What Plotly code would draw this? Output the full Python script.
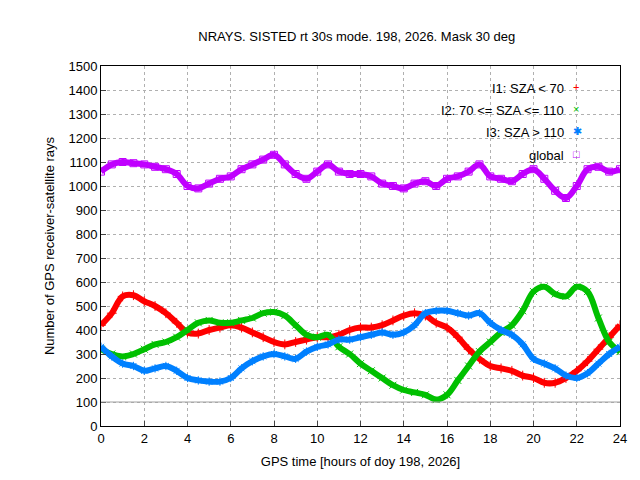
import plotly.graph_objects as go

hours = [i * 0.5 for i in range(49)]

i1 = [420, 470, 540, 545, 520, 500, 470, 430, 390, 385, 400, 410, 420, 410, 390, 370, 350, 340, 350, 360,
      370, 370, 380, 400, 410, 410, 420, 440, 460, 470, 460, 430, 410, 370, 320, 280, 250, 240, 230, 210,
      200, 180, 180, 200, 230, 270, 320, 370, 420]
i2 = [320, 300, 290, 300, 320, 340, 350, 370, 400, 430, 440, 430, 430, 440, 450, 470, 475, 460, 420, 380,
      370, 380, 330, 300, 260, 230, 200, 170, 150, 140, 130, 110, 130, 190, 250, 310, 350, 390, 420, 480,
      560, 580, 550, 540, 580, 560, 450, 350, 310]
i3 = [330, 290, 260, 250, 230, 240, 250, 230, 200, 190, 185, 185, 200, 240, 270, 290, 300, 290, 280, 310,
      330, 340, 360, 360, 370, 380, 390, 380, 390, 420, 470, 480, 480, 470, 460, 470, 430, 400, 380, 340,
      280, 260, 240, 210, 200, 220, 260, 300, 330]
glob = [1060, 1090, 1100, 1095, 1090, 1080, 1070, 1050, 1000, 990, 1010, 1030, 1040, 1070, 1090, 1110,
        1130, 1090, 1050, 1030, 1060, 1090, 1060, 1050, 1050, 1040, 1010, 1000, 990, 1010, 1020, 1000,
        1030, 1040, 1060, 1090, 1040, 1030, 1020, 1050, 1070, 1030, 980, 950, 1000, 1070, 1080, 1060, 1070]

series = [
    ("I1: SZA < 70", i1, "#ff0000", "cross-thin-open", "+"),
    ("I2: 70 <= SZA <= 110", i2, "#00c000", "x-thin-open", "×"),
    ("I3: SZA > 110", i3, "#0080ff", "asterisk-open", "✱"),
    ("global", glob, "#c000ff", "square-open", "□"),
]

fig = go.Figure()
for name, vals, col, sym, _ in series:
    fig.add_trace(go.Scatter(
        x=hours, y=vals, mode="lines+markers", name=name, showlegend=False,
        line=dict(color=col, width=6, shape="spline"),
        marker=dict(symbol=sym, size=7, color=col, line=dict(width=1, color=col)),
    ))

fig.add_hline(y=100, line=dict(color="#a0a0a0", width=1))

for k, (name, _, col, _, glyph) in enumerate(series):
    yy = 0.965 - k * 0.062
    fig.add_annotation(xref="paper", yref="paper", x=0.895, y=yy, text=name, showarrow=False,
                       xanchor="right", font=dict(size=13, color="black"))
    fig.add_annotation(xref="paper", yref="paper", x=0.905, y=yy, text=glyph, showarrow=False,
                       xanchor="left", font=dict(size=11, color=col))

axis = dict(showline=True, mirror=True, linecolor="black", linewidth=1, ticks="inside", ticklen=5,
            showgrid=True, gridcolor="#b0b0b0", griddash="dot", zeroline=False, automargin=False,
            tickfont=dict(size=13, color="black"))

fig.update_layout(
    width=640, height=480,
    margin=dict(l=93, r=28, t=58, b=62, autoexpand=False),
    plot_bgcolor="white", paper_bgcolor="white",
    font=dict(family="Liberation Sans, Arial", size=13, color="black"),
    title=dict(text="NRAYS. SISTED rt 30s mode. 198, 2026. Mask 30 deg", x=0.545, y=0.95,
               xanchor="center", font=dict(size=13), automargin=False),
    xaxis=dict(axis, range=[0, 24], dtick=2,
               title=dict(text="GPS time [hours of doy 198, 2026]", font=dict(size=13), standoff=12)),
    yaxis=dict(axis, range=[0, 1500], dtick=100,
               title=dict(text="Number of GPS receiver-satellite rays", font=dict(size=13), standoff=10)),
)

fig.write_html("out.html")
